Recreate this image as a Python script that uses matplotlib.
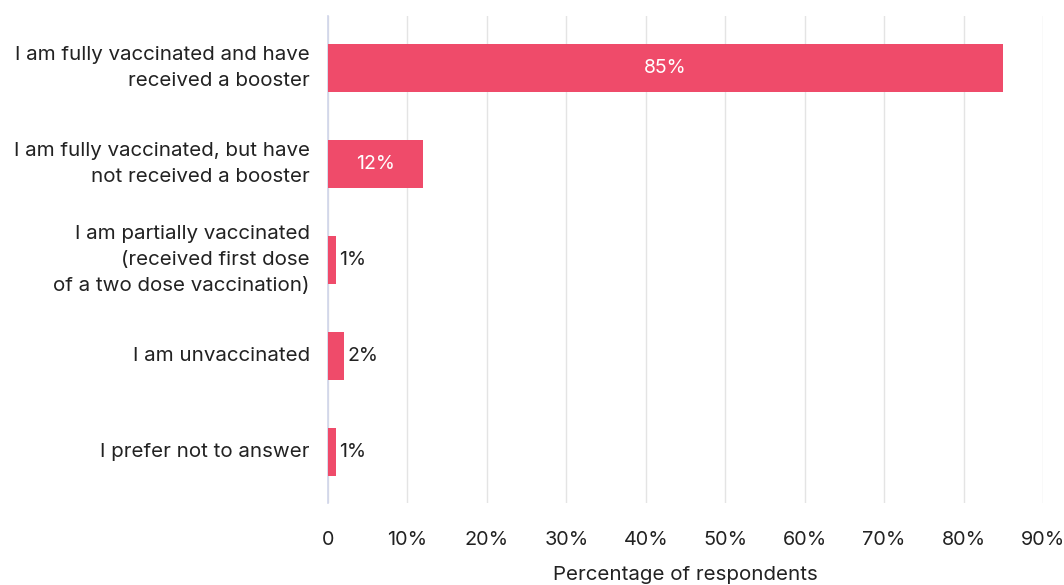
import matplotlib.pyplot as plt
from matplotlib.ticker import FuncFormatter

plt.rcParams['font.family'] = ['Inter', 'DejaVu Sans']

answers = [
    "I am fully vaccinated and have\nreceived a booster",
    "I am fully vaccinated, but have\nnot received a booster",
    "I am partially vaccinated\n(received first dose\nof a two dose vaccination)",
    "I am unvaccinated",
    "I prefer not to answer",
]
shares = [85, 12, 1, 2, 1]
x_ticks = [0, 10, 20, 30, 40, 50, 60, 70, 80, 90]

bar_color = "#EF4B6A"
text_color = "#222222"

fig = plt.figure(figsize=(10.64, 5.85), dpi=100)
ax = fig.add_axes([0.3083, 0.140, 0.672, 0.8326])

pos = list(range(len(answers)))
bars = ax.barh(pos, shares, height=0.5, color=bar_color, zorder=3)

# big bars get the value inside, small ones just to the right
for b, v in zip(bars, shares):
    y = b.get_y() + b.get_height() / 2
    if v >= 10:
        ax.text(v / 2, y, f"{v}%", ha="center", va="center",
                color="white", fontsize=14, zorder=4)
    else:
        ax.annotate(f"{v}%", (v, y), xytext=(2.5, 0), textcoords="offset points",
                    ha="left", va="center", color=text_color, fontsize=14)

ax.set_xlim(0, 90)
ax.set_ylim(4.53, -0.54)
ax.set_xticks(x_ticks)
ax.xaxis.set_major_formatter(FuncFormatter(lambda v, _: "0" if v == 0 else f"{v:.0f}%"))
ax.set_yticks(pos)
ax.set_yticklabels(answers, ha="right", va="center", multialignment="right", linespacing=1.55)

ax.tick_params(axis="x", length=0, pad=20, labelsize=14.3, labelcolor=text_color)
ax.tick_params(axis="y", length=0, pad=13, labelsize=14.8, labelcolor=text_color)

ax.grid(axis="x", color="#e4e4e4", linewidth=1, zorder=0)
for s in ["top", "right", "bottom"]:
    ax.spines[s].set_visible(False)
ax.spines["left"].set_color("#d0d5ea")
ax.spines["left"].set_linewidth(1.2)

ax.set_xlabel("Percentage of respondents", fontsize=14.8, color=text_color, labelpad=12)

fig.savefig("out.png", dpi=100)
